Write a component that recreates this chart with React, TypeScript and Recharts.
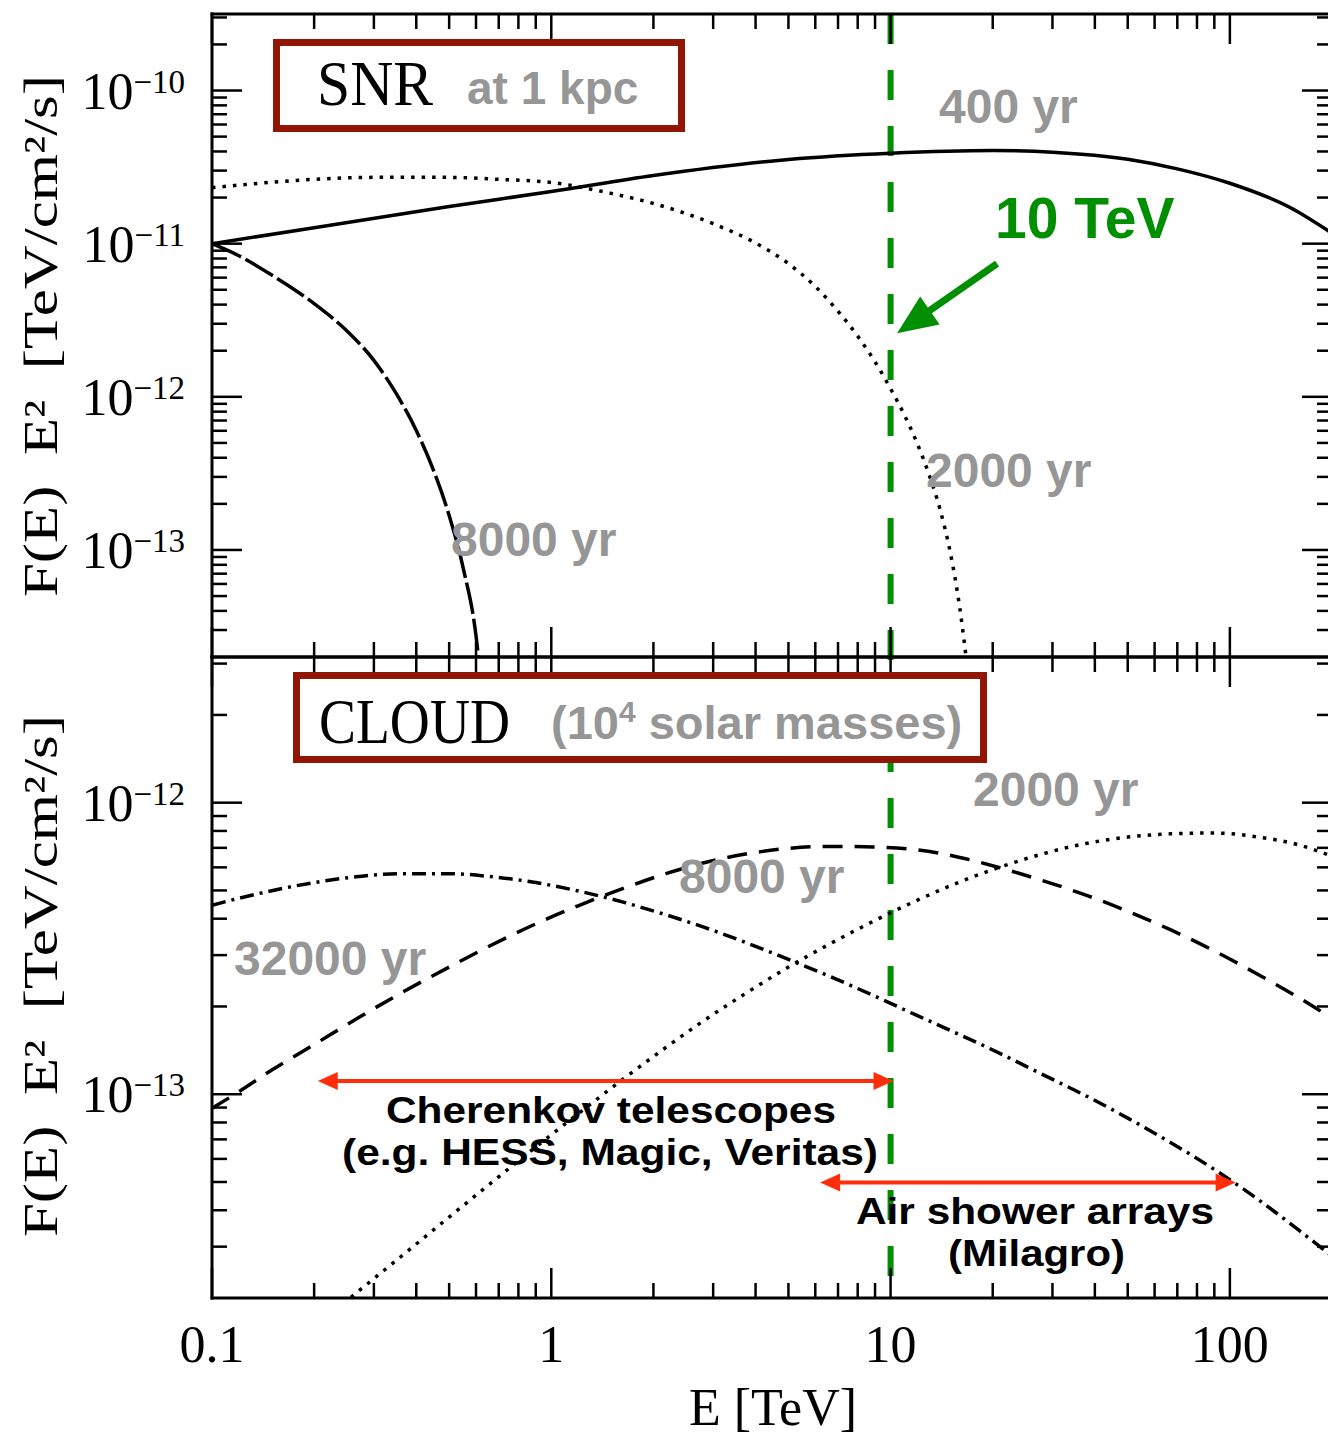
import { LineChart, Line, XAxis, YAxis, ReferenceLine } from 'recharts';

// energy axis (TeV)
const xDomain: [number, number] = [0.1, 200];
const xTicks = [0.1, 0.2, 0.3, 0.4, 0.5, 0.6, 0.7, 0.8, 0.9, 1, 2, 3, 4, 5, 6, 7, 8, 9, 10, 20, 30, 40, 50, 60, 70, 80, 90, 100, 200];
const xLabelValues = [0.1, 1, 10, 100];
const xLabelTexts = ['0.1', '1', '10', '100'];

// flux axes, E^2 F(E) in TeV/cm^2/s
const snrDomain: [number, number] = [2e-14, 3.16e-10];
const snrDecades = [-10, -11, -12, -13];
const cloudDomain: [number, number] = [2e-14, 3.16e-12];
const cloudDecades = [-12, -13];
const mantissas = [1, 2, 3, 4, 5, 6, 7, 8, 9];

// SNR at 1 kpc
const snr400E = [0.1, 0.2, 0.5, 1, 2, 5, 10, 20, 30, 50, 70, 100, 150, 200];
const snr400F = [1.0e-11, 1.27e-11, 1.75e-11, 2.19e-11, 2.79e-11, 3.55e-11, 3.9e-11, 4.06e-11, 3.96e-11, 3.56e-11, 3.08e-11, 2.48e-11, 1.73e-11, 1.17e-11];

const snr2000E = [0.1, 0.2, 0.3, 0.5, 0.7, 1, 1.5, 2, 3, 4, 5, 6, 7, 8, 9, 10, 11, 12, 13, 14, 15, 16, 17];
const snr2000F = [2.32e-11, 2.63e-11, 2.71e-11, 2.71e-11, 2.63e-11, 2.51e-11, 2.13e-11, 1.83e-11, 1.35e-11, 1.01e-11, 7.41e-12, 5.25e-12, 3.62e-12, 2.49e-12, 1.69e-12, 1.13e-12, 7.55e-13, 4.92e-13, 3.08e-13, 1.83e-13, 9.6e-14, 4.16e-14, 1.42e-14];

const snr8000E = [0.1, 0.12, 0.15, 0.2, 0.25, 0.3, 0.35, 0.4, 0.45, 0.5, 0.55, 0.6, 0.62];
const snr8000F = [1.0e-11, 8.34e-12, 6.24e-12, 4.06e-12, 2.69e-12, 1.73e-12, 1.04e-12, 6.03e-13, 3.3e-13, 1.68e-13, 7.62e-14, 2.75e-14, 1.41e-14];

// molecular cloud (1e4 solar masses)
const cloudE = [0.1, 0.12, 0.15, 0.2, 0.27, 0.36, 0.5, 0.66, 0.9, 1.2, 1.65, 2.2, 2.8, 3.7, 5, 6.6, 8.9, 12, 16, 21, 28, 38, 50, 67, 90, 120, 160, 200];
const cloud8000F = [8.95e-14, 1.02e-13, 1.21e-13, 1.48e-13, 1.83e-13, 2.22e-13, 2.73e-13, 3.23e-13, 3.84e-13, 4.43e-13, 5.11e-13, 5.73e-13, 6.21e-13, 6.65e-13, 6.97e-13, 7.08e-13, 7.05e-13, 6.89e-13, 6.49e-13, 5.98e-13, 5.41e-13, 4.8e-13, 4.24e-13, 3.66e-13, 3.1e-13, 2.59e-13, 2.14e-13, 1.82e-13];
const cloud32000F = [4.45e-13, 4.7e-13, 4.99e-13, 5.32e-13, 5.58e-13, 5.71e-13, 5.71e-13, 5.58e-13, 5.32e-13, 4.98e-13, 4.54e-13, 4.11e-13, 3.75e-13, 3.33e-13, 2.9e-13, 2.54e-13, 2.18e-13, 1.86e-13, 1.6e-13, 1.38e-13, 1.17e-13, 9.82e-14, 8.28e-14, 6.82e-14, 5.52e-14, 4.39e-14, 3.41e-14, 2.78e-14];

const cloud2000E = [0.23, 0.27, 0.36, 0.5, 0.66, 0.9, 1.2, 1.65, 2.2, 2.8, 3.7, 5, 6.6, 8.9, 12, 16, 21, 28, 38, 50, 67, 90, 120, 160, 200];
const cloud2000F = [1.81e-14, 2.11e-14, 2.77e-14, 3.79e-14, 4.93e-14, 6.59e-14, 8.57e-14, 1.14e-13, 1.46e-13, 1.78e-13, 2.2e-13, 2.73e-13, 3.27e-13, 3.92e-13, 4.63e-13, 5.35e-13, 6.01e-13, 6.67e-13, 7.26e-13, 7.62e-13, 7.82e-13, 7.87e-13, 7.64e-13, 7.16e-13, 6.55e-13];

// annotations
const markerE = 10;
const tevArrowFrom = { e: 20.6, f: 7.4e-12 };
const tevArrowTo = { e: 10.45, f: 2.6e-12 };
const cherenkovRange = [0.205, 10.2];
const cherenkovLevel = 1.11e-13;
const airShowerRange = [6.2, 104];
const airShowerLevel = 4.98e-14;

const GREEN = '#008f00';
const RED = '#ff2d0a';
const BOX = '#911606';
const GRAY = '#969696';
const SERIF = '"Liberation Serif", serif';
const SANS = '"Liberation Sans", Arial, sans-serif';

const toPoints = (es: number[], fs: number[]) => es.map((e, i) => ({ e, f: fs[i] }));

const logTicks = (domain: [number, number]) => {
  const out: number[] = [];
  for (let d = -15; d <= -9; d++) {
    mantissas.forEach((m) => {
      const v = m * Math.pow(10, d);
      if (v > domain[0] * 1.01 && v < domain[1] * 1.01) out.push(v);
    });
  }
  return out;
};

const isDecade = (v: number) => Math.abs(Math.log10(v) - Math.round(Math.log10(v))) < 1e-6;

const XTick = (props: any) => {
  const { x, y, payload, dir, showLabels } = props;
  const v = payload.value;
  const major = isDecade(v);
  const idx = xLabelValues.findIndex((lv) => Math.abs(lv - v) < 1e-9);
  return (
    <g>
      <line x1={x} y1={y} x2={x} y2={y + dir * (major ? 30 : 15)} stroke="#000" strokeWidth={2.5} />
      {showLabels && idx >= 0 && (
        <text x={x} y={y + 64} textAnchor="middle" fontFamily={SERIF} fontSize={52} fill="#000">
          {xLabelTexts[idx]}
        </text>
      )}
    </g>
  );
};

const YTick = (props: any) => {
  const { x, y, payload, dir, exps } = props;
  const v = payload.value;
  const major = isDecade(v);
  const exp = Math.round(Math.log10(v));
  return (
    <g>
      <line x1={x} y1={y} x2={x + dir * (major ? 30 : 15)} y2={y} stroke="#000" strokeWidth={2.5} />
      {major && exps.includes(exp) && (
        <text x={x - 27} y={y + 18} textAnchor="end" fontFamily={SERIF} fontSize={52} fill="#000">
          10
          <tspan fontSize={33} dy={-16}>{'\u2212' + Math.abs(exp)}</tspan>
        </text>
      )}
    </g>
  );
};

const frameLine = { stroke: '#000', strokeWidth: 3, strokeLinecap: 'square' as const };

// axes are 1px thick so they still render; margins are reduced by that pixel
const frame = (yDomain: [number, number], exps: number[], showXLabels: boolean) => {
  const yTicks = logTicks(yDomain);
  return [
    <XAxis key="xb" xAxisId="b" dataKey="e" type="number" scale="log" domain={xDomain} ticks={xTicks}
      allowDataOverflow interval={0} height={1} tickSize={0} tickMargin={0} tickLine={false} axisLine={frameLine}
      tick={(p: any) => <XTick {...p} dir={-1} showLabels={showXLabels} />} />,
    <XAxis key="xt" xAxisId="t" dataKey="e" orientation="top" type="number" scale="log" domain={xDomain} ticks={xTicks}
      allowDataOverflow interval={0} height={1} tickSize={0} tickMargin={0} tickLine={false} axisLine={frameLine}
      tick={(p: any) => <XTick {...p} dir={1} showLabels={false} />} />,
    <YAxis key="yl" yAxisId="l" type="number" scale="log" domain={yDomain} ticks={yTicks}
      allowDataOverflow interval={0} width={1} tickSize={0} tickMargin={0} tickLine={false} axisLine={frameLine}
      tick={(p: any) => <YTick {...p} dir={1} exps={exps} />} />,
    <YAxis key="yr" yAxisId="r" orientation="right" type="number" scale="log" domain={yDomain} ticks={yTicks}
      allowDataOverflow interval={0} width={1} tickSize={0} tickMargin={0} tickLine={false} axisLine={frameLine}
      tick={(p: any) => <YTick {...p} dir={-1} exps={[]} />} />,
  ];
};

const head = (tx: number, ty: number, fx: number, fy: number, len: number, half: number) => {
  const dx = tx - fx;
  const dy = ty - fy;
  const L = Math.hypot(dx, dy) || 1;
  const ux = dx / L;
  const uy = dy / L;
  const bx = tx - ux * len;
  const by = ty - uy * len;
  return `${tx},${ty} ${bx - uy * half},${by + ux * half} ${bx + uy * half},${by - ux * half}`;
};

const DoubleArrow = (p: any) => (
  <g>
    <line x1={p.x1 + 18} y1={p.y1} x2={p.x2 - 18} y2={p.y2} stroke={RED} strokeWidth={4} />
    <polygon points={head(p.x1, p.y1, p.x2, p.y2, 20, 9)} fill={RED} />
    <polygon points={head(p.x2, p.y2, p.x1, p.y1, 20, 9)} fill={RED} />
  </g>
);

const GreenArrow = (p: any) => {
  const L = Math.hypot(p.x2 - p.x1, p.y2 - p.y1);
  const k = (L - 30) / L;
  return (
    <g>
      <line x1={p.x1} y1={p.y1} x2={p.x1 + (p.x2 - p.x1) * k} y2={p.y1 + (p.y2 - p.y1) * k} stroke={GREEN} strokeWidth={7} />
      <polygon points={head(p.x2, p.y2, p.x1, p.y1, 40, 17)} fill={GREEN} />
    </g>
  );
};

const markerLine = (offset: number) => (p: any) => (
  <line x1={p.x1} y1={p.y1} x2={p.x2} y2={p.y2} stroke={GREEN} strokeWidth={6} strokeDasharray="30 26" strokeDashoffset={offset} />
);

const SnrChart = () => (
  <LineChart width={1340} height={670} margin={{ top: 13, right: 7, bottom: 12, left: 211 }}>
    {frame(snrDomain, snrDecades, false)}
    <ReferenceLine xAxisId="b" yAxisId="l" ifOverflow="visible"
      segment={[{ x: markerE, y: snrDomain[1] }, { x: markerE, y: snrDomain[0] }]} shape={markerLine(0)} />
    <Line xAxisId="b" yAxisId="l" data={toPoints(snr400E, snr400F)} dataKey="f" type="monotone" dot={false}
      stroke="#000" strokeWidth={3.5} isAnimationActive={false} />
    <Line xAxisId="b" yAxisId="l" data={toPoints(snr2000E, snr2000F)} dataKey="f" type="monotone" dot={false}
      stroke="#000" strokeWidth={3.5} strokeDasharray="3.5 7" isAnimationActive={false} />
    <Line xAxisId="b" yAxisId="l" data={toPoints(snr8000E, snr8000F)} dataKey="f" type="monotone" dot={false}
      stroke="#000" strokeWidth={3.5} strokeDasharray="32 5" isAnimationActive={false} />
    <ReferenceLine xAxisId="b" yAxisId="l" ifOverflow="visible"
      segment={[{ x: tevArrowFrom.e, y: tevArrowFrom.f }, { x: tevArrowTo.e, y: tevArrowTo.f }]} shape={GreenArrow} />
  </LineChart>
);

const CloudChart = () => (
  <LineChart width={1340} height={1435} margin={{ top: 656, right: 7, bottom: 136, left: 211 }}>
    {frame(cloudDomain, cloudDecades, true)}
    <ReferenceLine xAxisId="b" yAxisId="l" ifOverflow="visible"
      segment={[{ x: markerE, y: cloudDomain[1] }, { x: markerE, y: cloudDomain[0] }]} shape={markerLine(27)} />
    <Line xAxisId="b" yAxisId="l" data={toPoints(cloudE, cloud8000F)} dataKey="f" type="monotone" dot={false}
      stroke="#000" strokeWidth={3.5} strokeDasharray="20 12" isAnimationActive={false} />
    <Line xAxisId="b" yAxisId="l" data={toPoints(cloudE, cloud32000F)} dataKey="f" type="monotone" dot={false}
      stroke="#000" strokeWidth={3.5} strokeDasharray="14 6 3 6" isAnimationActive={false} />
    <Line xAxisId="b" yAxisId="l" data={toPoints(cloud2000E, cloud2000F)} dataKey="f" type="monotone" dot={false}
      stroke="#000" strokeWidth={3.5} strokeDasharray="3.5 7" isAnimationActive={false} />
    <ReferenceLine xAxisId="b" yAxisId="l" ifOverflow="visible"
      segment={[{ x: cherenkovRange[0], y: cherenkovLevel }, { x: cherenkovRange[1], y: cherenkovLevel }]} shape={DoubleArrow} />
    <ReferenceLine xAxisId="b" yAxisId="l" ifOverflow="visible"
      segment={[{ x: airShowerRange[0], y: airShowerLevel }, { x: airShowerRange[1], y: airShowerLevel }]} shape={DoubleArrow} />
  </LineChart>
);

const grayText = { fontFamily: SANS, fontWeight: 700, fontSize: 48, fill: GRAY };
const blackText = { fontFamily: SANS, fontWeight: 700, fontSize: 37, fill: '#000', lengthAdjust: 'spacingAndGlyphs' };
const titleText = { fontFamily: SERIF, fontSize: 48, fill: '#000', textAnchor: 'middle' as const, textLength: 522,
  lengthAdjust: 'spacingAndGlyphs', style: { whiteSpace: 'pre' as const } };

const Annotations = () => (
  <svg width={1328} height={1435} style={{ position: 'absolute', left: 0, top: 0, pointerEvents: 'none' }}>
    {/* axis titles */}
    <text transform="translate(57,336) rotate(-90)" {...titleText}>F(E)  E²  [TeV/cm²/s]</text>
    <text transform="translate(57,976) rotate(-90)" {...titleText}>F(E)  E²  [TeV/cm²/s]</text>
    <text x={773} y={1425} textAnchor="middle" fontFamily={SERIF} fontSize={52} fill="#000">E [TeV]</text>

    {/* SNR box */}
    <rect x={276.5} y={42.5} width={405} height={86} fill="#fff" stroke={BOX} strokeWidth={7} />
    <text x={317} y={105} fontFamily={SERIF} fontSize={63} textLength={116} lengthAdjust="spacingAndGlyphs" fill="#000">SNR</text>
    <text x={467} y={104} {...grayText} fontSize={46}>at 1 kpc</text>

    {/* CLOUD box */}
    <rect x={296.5} y={675.5} width={687} height={84} fill="#fff" stroke={BOX} strokeWidth={7} />
    <text x={319} y={743} fontFamily={SERIF} fontSize={64} textLength={191} lengthAdjust="spacingAndGlyphs" fill="#000">CLOUD</text>
    <text x={551} y={739} {...grayText} fontSize={47}>
      (10<tspan fontSize={30} dy={-17}>4</tspan><tspan dy={17}> solar masses)</tspan>
    </text>

    {/* ages */}
    <text x={939} y={123} {...grayText}>400 yr</text>
    <text x={926} y={487} {...grayText}>2000 yr</text>
    <text x={451} y={556} {...grayText}>8000 yr</text>
    <text x={973} y={806} {...grayText}>2000 yr</text>
    <text x={679} y={893} {...grayText}>8000 yr</text>
    <text x={234} y={975} {...grayText}>32000 yr</text>

    <text x={995} y={238} fontFamily={SANS} fontWeight={700} fontSize={57} fill={GREEN}>10 TeV</text>

    {/* instrument ranges */}
    <text x={386} y={1123} textLength={450} {...blackText}>Cherenkov telescopes</text>
    <text x={342} y={1165} textLength={536} {...blackText}>(e.g. HESS, Magic, Veritas)</text>
    <text x={856} y={1224} textLength={358} {...blackText}>Air shower arrays</text>
    <text x={948} y={1266} textLength={177} {...blackText}>(Milagro)</text>
  </svg>
);

export default function App() {
  return (
    <div style={{ position: 'fixed', left: 0, top: 0, width: 1328, height: 1435, overflow: 'hidden', background: '#fff' }}>
      <div style={{ position: 'absolute', left: 0, top: 0 }}>
        <SnrChart />
      </div>
      <div style={{ position: 'absolute', left: 0, top: 0 }}>
        <CloudChart />
      </div>
      <Annotations />
    </div>
  );
}
